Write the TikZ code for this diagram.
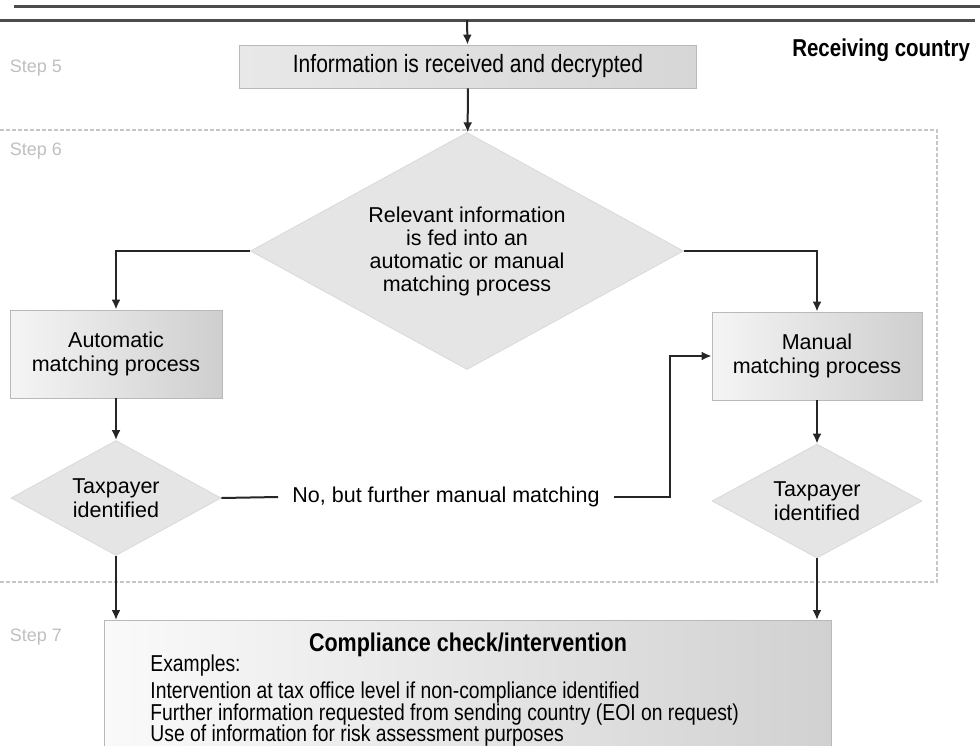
\documentclass[tikz,border=0pt]{standalone}
\usepackage{fontspec}
\setmainfont{Liberation Sans}
\newfontfamily\narrowfont[FakeStretch=0.84]{Liberation Sans}
\usetikzlibrary{shapes.geometric, arrows.meta}

\tikzset{
  process/.style={draw=gray!55, left color=gray!8, right color=gray!38, align=center, inner sep=0pt,
    font=\fontsize{10.75}{12}\selectfont},
  decision/.style={diamond, draw=gray!30, fill=gray!20, aspect=1.83, inner sep=0pt, align=center,
    font=\fontsize{10.75}{12}\selectfont},
  steplabel/.style={text=gray!50, font=\fontsize{9}{10}\selectfont},
  flow/.style={->, >={Latex[length=5pt,width=4.5pt]}, line width=1pt, draw=black!85}
}

\begin{document}
\begin{tikzpicture}[x=0.5pt, y=-0.5pt]
    \useasboundingbox (0,0) rectangle (980,745);
    % Trennlinien oben
    \draw[line width=1.5pt, black!70] (14,6) -- (980,6);
    \draw[line width=1.5pt, black!70] (0,20) -- (975,20);
    \coordinate (top) at (467,20);
    % Rahmen Schritt 6
    \draw[gray!45, dash pattern=on 2pt off 1pt, line width=0.6pt] (0,130) -- (937,130) -- (937,582) -- (0,582);
    % Schritte
    \node[steplabel] (step5) at (36,68) {Step 5};
    \node[steplabel] (step6) at (36,151) {Step 6};
    \node[steplabel] (step7) at (36,637) {Step 7};
    \node[anchor=east, font={\narrowfont\bfseries\fontsize{12.2}{14}\selectfont}] (recvlabel) at (977,50) {Receiving country};
    % Kaesten
    \node[process, minimum width=228.5pt, minimum height=21.5pt, left color=gray!18, right color=gray!32,
      font={\narrowfont\fontsize{12.5}{14}\selectfont}] (recv) at (468,66.5) {Information is received and decrypted};
    \node[decision, minimum width=216.5pt, minimum height=118.5pt, font=\fontsize{10.75}{11.5}\selectfont] (feed) at (467,251)
      {Relevant information\\is fed into an\\automatic or manual\\matching process};
    \node[process, minimum width=106pt, minimum height=44pt] (auto) at (116,354) {Automatic\\matching process};
    \node[process, minimum width=105pt, minimum height=44pt] (manual) at (817,356) {Manual\\matching process};
    \node[decision, minimum width=105pt, minimum height=57.5pt] (tpauto) at (116,498) {Taxpayer\\identified};
    \node[decision, minimum width=105pt, minimum height=57pt] (tpmanual) at (817,501) {Taxpayer\\identified};
    \node[font=\fontsize{10.75}{12}\selectfont, inner xsep=7pt] (nomatch) at (446,497) {No, but further manual matching};
    % Schritt 7
    \node[draw=gray!55, left color=gray!4, right color=gray!36, minimum width=363.5pt, minimum height=70pt,
      anchor=north] (comp) at (468,620) {};
    \node[font={\narrowfont\bfseries\fontsize{12.8}{14}\selectfont}] (comptitle) at (468,645) {Compliance check/intervention};
    \node[anchor=north west, inner sep=0pt, align=left, font={\narrowfont\fontsize{11.5}{10.75}\selectfont}] (examples) at (150,654)
      {Examples:\\[3pt]Intervention at tax office level if non-compliance identified\\Further information requested from sending country (EOI on request)\\Use of information for risk assessment purposes};
    % Pfeile
    \draw[flow] (top) -- (recv);
    \draw[flow] (recv) -- (feed);
    \draw[flow] (feed.west) -| (auto.north);
    \draw[flow] (feed.east) -| (manual.north);
    \draw[flow] (auto) -- (tpauto);
    \draw[flow] (manual) -- (tpmanual);
    \draw[line width=1pt, black!85] (tpauto.east) -- (nomatch.west);
    \draw[flow] (nomatch.east) -- ++(56,0) |- (manual.west);
    \draw[flow] (tpauto) -- (tpauto |- comp.north);
    \draw[flow] (tpmanual) -- (tpmanual |- comp.north);
\end{tikzpicture}
\end{document}
